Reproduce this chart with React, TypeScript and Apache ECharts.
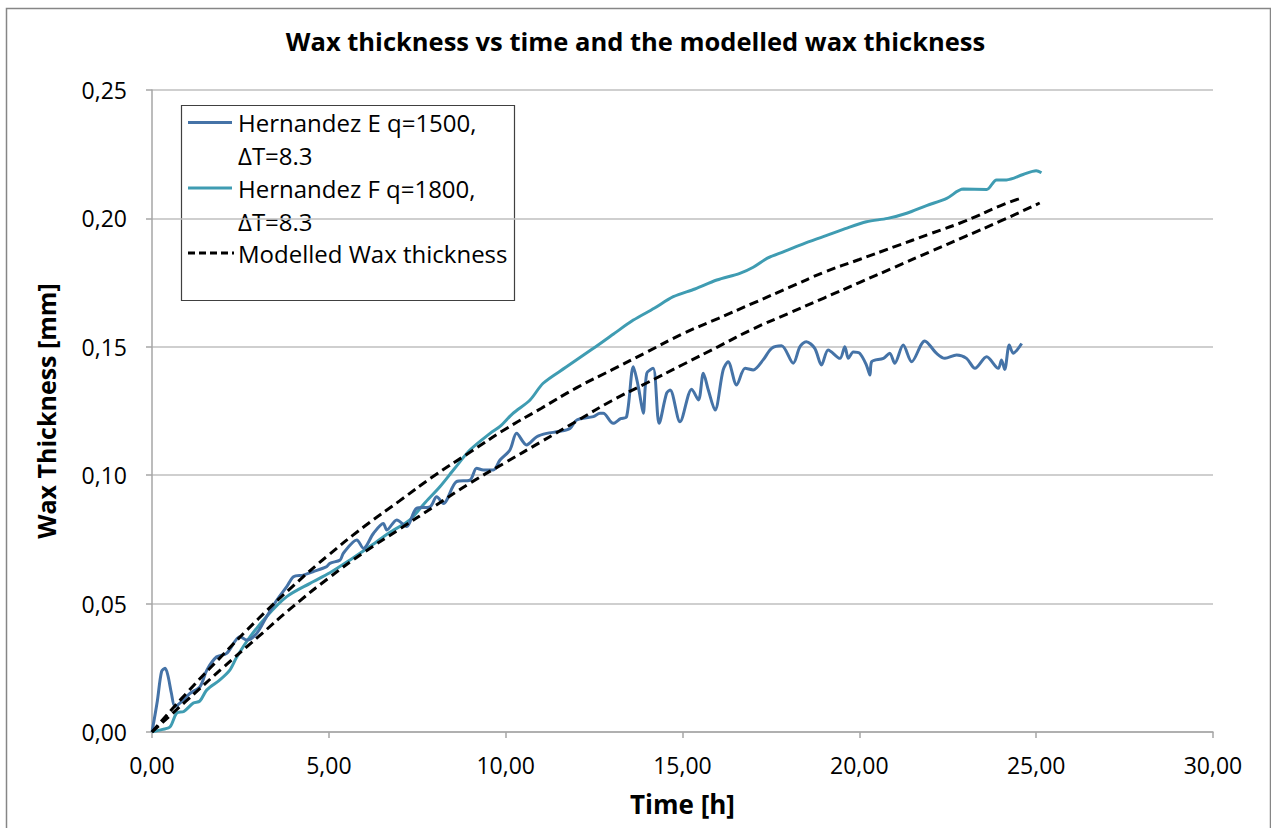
import React, { useEffect, useRef } from "react";
import * as echarts from "echarts";

const titleText = "Wax thickness vs time and the modelled wax thickness";
const xAxisName = "Time [h]";
const yAxisName = "Wax Thickness [mm]";
const legendLabels = ["Hernandez E q=1500,\nΔT=8.3", "Hernandez F q=1800,\nΔT=8.3", "Modelled Wax thickness"];

// Hernandez E (blue)
const eTime = [0, 0.15, 0.27, 0.37, 0.45, 0.55, 0.65, 0.85, 1.07, 1.36, 1.55, 1.83, 2.11, 2.49, 2.68, 2.96, 3.24, 3.53, 3.81, 4.0, 4.28, 4.55, 4.94, 5.03, 5.32, 5.41, 5.79, 5.98, 6.26, 6.54, 6.64, 6.92, 7.2, 7.48, 7.86, 8.05, 8.24, 8.61, 8.99, 9.18, 9.37, 9.65, 9.84, 10.12, 10.31, 10.59, 10.88, 11.16, 11.5, 11.82, 12.01, 12.48, 12.67, 12.76, 13.04, 13.25, 13.42, 13.61, 13.75, 13.82, 13.89, 13.99, 14.17, 14.34, 14.55, 14.65, 14.93, 15.26, 15.45, 15.59, 15.73, 15.92, 16.15, 16.29, 16.53, 16.77, 17.0, 17.28, 17.52, 17.8, 18.13, 18.32, 18.5, 18.74, 18.93, 19.12, 19.45, 19.59, 19.69, 19.83, 20.01, 20.2, 20.3, 20.35, 20.68, 20.86, 21.0, 21.24, 21.48, 21.85, 22.18, 22.42, 22.75, 23.03, 23.27, 23.6, 23.93, 24.02, 24.11, 24.24, 24.35, 24.59];
const eThick = [0, 0.012, 0.0235, 0.0248, 0.022, 0.015, 0.0099, 0.012, 0.015, 0.0177, 0.0241, 0.0293, 0.0306, 0.0371, 0.0358, 0.0384, 0.0449, 0.0514, 0.0566, 0.0605, 0.0611, 0.0624, 0.0644, 0.0657, 0.067, 0.0696, 0.0748, 0.0715, 0.0773, 0.0812, 0.0787, 0.0826, 0.08, 0.0871, 0.0877, 0.0916, 0.089, 0.0975, 0.0981, 0.1027, 0.102, 0.102, 0.1059, 0.1098, 0.1163, 0.1118, 0.115, 0.1163, 0.117, 0.1182, 0.1215, 0.1228, 0.1241, 0.1241, 0.1202, 0.122, 0.1228, 0.1422, 0.1345, 0.129, 0.1241, 0.1397, 0.1416, 0.1202, 0.1319, 0.1332, 0.1208, 0.1335, 0.1293, 0.1397, 0.1332, 0.1254, 0.141, 0.1442, 0.1351, 0.1416, 0.141, 0.1449, 0.1494, 0.1504, 0.1436, 0.15, 0.152, 0.1494, 0.1429, 0.1488, 0.1455, 0.15, 0.1455, 0.148, 0.1475, 0.1429, 0.139, 0.1442, 0.1455, 0.1475, 0.1436, 0.1507, 0.1442, 0.1523, 0.1475, 0.1455, 0.1468, 0.1455, 0.1416, 0.1461, 0.1416, 0.1449, 0.1412, 0.1507, 0.1475, 0.1513];

// Hernandez F (teal)
const fTime = [0, 0.3, 0.51, 0.7, 0.9, 1.17, 1.35, 1.55, 1.92, 2.2, 2.39, 2.77, 3.24, 3.81, 4.47, 5.03, 5.6, 6.16, 6.7, 7.29, 7.7, 8.14, 8.55, 8.99, 9.56, 9.84, 10.2, 10.69, 11.06, 11.7, 12.48, 13.05, 13.61, 14.2, 14.74, 15.35, 15.97, 16.62, 17.0, 17.4, 17.85, 18.4, 18.98, 19.6, 20.2, 20.8, 21.34, 21.9, 22.47, 22.94, 23.6, 23.88, 24.16, 24.63, 25.0, 25.15];
const fThick = [0, 0.001, 0.002, 0.0074, 0.008, 0.0113, 0.012, 0.0164, 0.0203, 0.0241, 0.029, 0.037, 0.045, 0.0527, 0.0579, 0.062, 0.067, 0.0722, 0.0775, 0.0826, 0.089, 0.0955, 0.1025, 0.1098, 0.1163, 0.119, 0.124, 0.1293, 0.1358, 0.142, 0.1494, 0.155, 0.1604, 0.165, 0.1695, 0.1725, 0.176, 0.1786, 0.181, 0.1845, 0.187, 0.19, 0.1929, 0.196, 0.1987, 0.2, 0.202, 0.205, 0.2078, 0.2114, 0.2113, 0.215, 0.215, 0.2171, 0.2186, 0.2178];

// Modelled wax thickness (two curves)
const mUpperTime = [0, 1, 2, 3, 4, 5, 6, 7, 8, 9, 10, 11, 12, 13, 14, 15, 16, 17, 18, 19, 20, 21, 22, 23, 24, 24.6];
const mUpperThick = [0, 0.0155, 0.03, 0.044, 0.057, 0.069, 0.08, 0.09, 0.1, 0.109, 0.118, 0.126, 0.134, 0.141, 0.148, 0.155, 0.161, 0.167, 0.173, 0.179, 0.184, 0.189, 0.194, 0.199, 0.205, 0.208];
const mLowerTime = [0, 1, 2, 3, 4, 5, 6, 7, 8, 9, 10, 11, 12, 13, 14, 15, 16, 17, 18, 19, 20, 21, 22, 23, 24, 25.1];
const mLowerThick = [0, 0.0125, 0.025, 0.037, 0.049, 0.06, 0.07, 0.079, 0.088, 0.097, 0.105, 0.113, 0.121, 0.129, 0.136, 0.143, 0.15, 0.157, 0.163, 0.169, 0.175, 0.181, 0.187, 0.193, 0.199, 0.206];

const BLUE = "#4573a7";
const TEAL = "#3f9cb2";
const FONT = "'Open Sans', sans-serif";

const pairs = (xs: number[], ys: number[]) => xs.map((x, i) => [x, ys[i]]);

export default function App() {
  const ref = useRef<HTMLDivElement>(null);
  useEffect(() => {
    const chart = echarts.init(ref.current!, undefined, { renderer: "svg" });
    const lgX = 181.5, lgY = 105.5;
    chart.setOption({
      animation: false,
      backgroundColor: "#ffffff",
      title: {
        text: titleText,
        left: "center",
        top: 23,
        textStyle: { fontFamily: FONT, fontWeight: "bold", fontSize: 25.5, color: "#000" },
      },
      grid: { left: 152, right: 58, top: 90, bottom: 96, containLabel: false },
      xAxis: {
        type: "value",
        min: 0,
        max: 30,
        interval: 5,
        name: xAxisName,
        nameLocation: "middle",
        nameGap: 59,
        nameTextStyle: { fontFamily: FONT, fontWeight: "bold", fontSize: 26, color: "#000" },
        axisLine: { onZero: false, lineStyle: { color: "#a6a6a6", width: 1.5 } },
        axisTick: { show: true, length: 6, lineStyle: { color: "#a6a6a6", width: 1.5 } },
        axisLabel: {
          margin: 21,
          fontFamily: FONT,
          fontSize: 23,
          color: "#000",
          formatter: (v: number) => v.toFixed(2).replace(".", ","),
        },
        splitLine: { show: false },
      },
      yAxis: {
        type: "value",
        min: 0,
        max: 0.25,
        interval: 0.05,
        name: yAxisName,
        nameLocation: "middle",
        nameGap: 94,
        nameTextStyle: { fontFamily: FONT, fontWeight: "bold", fontSize: 25, color: "#000" },
        axisLine: { show: true, lineStyle: { color: "#a6a6a6", width: 1.5 } },
        axisTick: { show: true, length: 6, lineStyle: { color: "#a6a6a6", width: 1.5 } },
        axisLabel: {
          margin: 25,
          fontFamily: FONT,
          fontSize: 23,
          color: "#000",
          formatter: (v: number) => v.toFixed(2).replace(".", ","),
        },
        splitLine: { show: true, lineStyle: { color: "#bfbfbf", width: 1.5 } },
      },
      series: [
        {
          name: "Hernandez E q=1500, ΔT=8.3",
          type: "line",
          data: pairs(eTime, eThick),
          showSymbol: false,
          smooth: 0.3,
          lineStyle: { color: BLUE, width: 3 },
          itemStyle: { color: BLUE },
          z: 3,
        },
        {
          name: "Hernandez F q=1800, ΔT=8.3",
          type: "line",
          data: pairs(fTime, fThick),
          showSymbol: false,
          smooth: 0.3,
          lineStyle: { color: TEAL, width: 3 },
          itemStyle: { color: TEAL },
          z: 2,
        },
        {
          name: "Modelled Wax thickness",
          type: "line",
          data: pairs(mUpperTime, mUpperThick),
          showSymbol: false,
          smooth: true,
          lineStyle: { color: "#000", width: 3, type: [9, 5] },
          z: 4,
        },
        {
          name: "Modelled Wax thickness ",
          type: "line",
          data: pairs(mLowerTime, mLowerThick),
          showSymbol: false,
          smooth: true,
          lineStyle: { color: "#000", width: 3, type: [9, 5] },
          z: 4,
        },
      ],
      graphic: [
        {
          type: "rect",
          left: 4,
          top: 6,
          shape: { x: 0, y: 0, width: 1264, height: 840 },
          style: { fill: "none", stroke: "#868686", lineWidth: 1.5 },
          silent: true,
          z: 0,
        },
        {
          type: "group",
          z: 100,
          children: [
            {
              type: "rect",
              shape: { x: lgX, y: lgY, width: 333, height: 195 },
              style: { fill: "#fff", stroke: "#404040", lineWidth: 1.2 },
            },
            {
              type: "line",
              shape: { x1: 188, y1: 122.5, x2: 232, y2: 122.5 },
              style: { stroke: BLUE, lineWidth: 3 },
            },
            {
              type: "line",
              shape: { x1: 188, y1: 188, x2: 232, y2: 188 },
              style: { stroke: TEAL, lineWidth: 3 },
            },
            {
              type: "line",
              shape: { x1: 188, y1: 253, x2: 234, y2: 253 },
              style: { stroke: "#000", lineWidth: 3, lineDash: [7, 4] },
            },
            {
              type: "text",
              x: 238,
              y: 106,
              style: { text: legendLabels[0], fontFamily: FONT, fontSize: 24, lineHeight: 33, fill: "#000" },
            },
            {
              type: "text",
              x: 238,
              y: 171.5,
              style: { text: legendLabels[1], fontFamily: FONT, fontSize: 24, lineHeight: 33, fill: "#000" },
            },
            {
              type: "text",
              x: 238,
              y: 236.5,
              style: { text: legendLabels[2], fontFamily: FONT, fontSize: 24, lineHeight: 33, fill: "#000" },
            },
          ],
        },
      ],
    });
    return () => chart.dispose();
  }, []);
  return <div ref={ref} style={{ position: "fixed", left: 0, top: 0, width: 1271, height: 828 }} />;
}
